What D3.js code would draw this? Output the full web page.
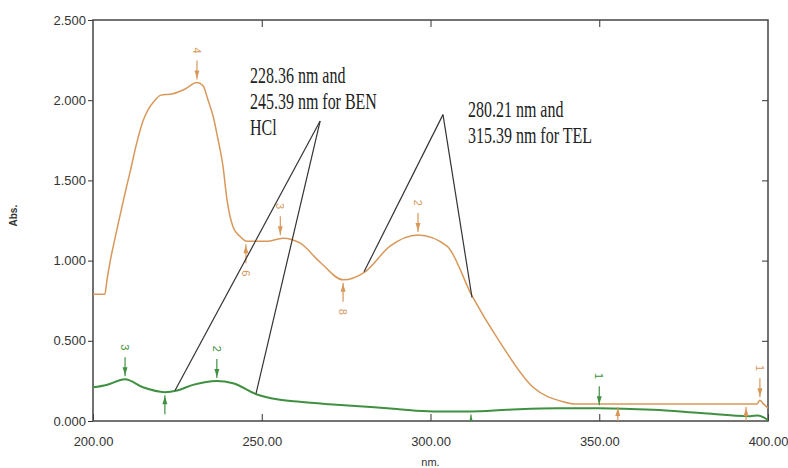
<!DOCTYPE html>
<meta charset="utf-8">
<script src="https://d3js.org/d3.v7.min.js"></script>
<style>
  body { margin: 0; background: #fff; }
</style>
<div id="my_dataviz"></div>
<script>
// spectrum readings (wavelength nm, absorbance)
var orangeNm  = [200, 203.5, 204.15, 205.04, 206.52, 208, 209.48, 210.96, 213.04, 214.81, 216.3, 218.37, 219.9, 223.7, 227.3, 230.8, 232.6, 234.1, 235.6, 237, 238.5, 239.7, 241.5, 243.6, 245.6, 251.6, 256.3, 261.3, 267.3, 274.1, 280.6, 288, 296.3, 304.9, 312.3, 320.6, 330.4, 339.3, 342.8, 396.7, 397.6, 398.5, 400];
var orangeAbs = [0.79, 0.79, 0.88, 0.99, 1.14, 1.28, 1.42, 1.55, 1.74, 1.87, 1.94, 2.0, 2.03, 2.04, 2.07, 2.11, 2.09, 2.0, 1.9, 1.76, 1.59, 1.38, 1.21, 1.15, 1.12, 1.12, 1.14, 1.11, 0.99, 0.88, 0.93, 1.09, 1.16, 1.09, 0.78, 0.49, 0.21, 0.12, 0.106, 0.106, 0.13, 0.11, 0.08];

var greenNm  = [200, 204, 209.5, 214.8, 221.3, 224.9, 229.6, 236.7, 241.5, 248.6, 254.5, 261.3, 270, 280, 290, 300.7, 312, 322.7, 337.5, 350, 366, 380, 394.7, 397, 399.7, 400];
var greenAbs = [0.21, 0.225, 0.26, 0.21, 0.18, 0.19, 0.225, 0.25, 0.235, 0.165, 0.135, 0.12, 0.105, 0.09, 0.075, 0.06, 0.06, 0.07, 0.08, 0.08, 0.07, 0.05, 0.03, 0.035, 0.01, 0.006];

// peak / valley picks
var orangePickNm    = [230.8, 255.5, 296.3, 397.6, 245.3, 274.1, 355.5, 393.5];
var orangePickAbs   = [2.11, 1.14, 1.16, 0.13, 1.12, 0.88, 0.106, 0.106];
var orangePickLabel = ["4", "3", "2", "1", "6", "8", "7", "5"];
var orangePickType  = ["peak", "peak", "peak", "peak", "valley", "valley", "valley", "valley"];

var greenPickNm    = [209.5, 236.7, 350, 221.3, 312];
var greenPickAbs   = [0.26, 0.25, 0.08, 0.18, 0.06];
var greenPickLabel = ["3", "2", "1", "5", "4"];
var greenPickType  = ["peak", "peak", "peak", "valley", "valley"];

// callout text and leader lines
var benText = ["228.36 nm and", "245.39 nm for BEN", "HCl"];
var telText = ["280.21 nm and", "315.39 nm for TEL"];
var benLines = [[[224.3, 0.19], [267.3, 1.87]], [[248.3, 0.17], [267.3, 1.87]]];
var telLines = [[[280.3, 0.93], [303.7, 1.91]], [[312.3, 0.77], [303.7, 1.91]]];

var xTicks = [200, 250, 300, 350, 400];
var yTicks = [0, 0.5, 1.0, 1.5, 2.0, 2.5];

var orangeCol = "#d8985a", greenCol = "#3f9040";

var margin = {top: 20, right: 20, bottom: 47, left: 93},
    width = 768 - margin.left,
    height = 421 - margin.top;

var svg = d3.select("#my_dataviz")
  .append("svg")
    .attr("width", 788)
    .attr("height", 468)
  .append("g")
    .attr("transform", "translate(" + margin.left + "," + margin.top + ")");

var x = d3.scaleLinear().domain([200, 400]).range([0, width]);
var y = d3.scaleLinear().domain([0, 2.5]).range([height, 0]);

svg.append("clipPath").attr("id", "clip")
  .append("rect").attr("width", width).attr("height", height);

// left axis: ticks outside
svg.append("g")
  .call(d3.axisLeft(y).tickValues(yTicks).tickFormat(d3.format(".3f")).tickSize(5).tickPadding(2))
  .call(function(g) {
    g.select(".domain").remove();
    g.selectAll("line").attr("stroke", "#333");
    g.selectAll("text").attr("font-family", "Liberation Sans, Arial").attr("font-size", 13).attr("fill", "#333");
  });

// bottom axis: ticks inside
svg.append("g")
  .attr("transform", "translate(0," + height + ")")
  .call(d3.axisBottom(x).tickValues(xTicks).tickFormat(d3.format(".2f")).tickSize(-7).tickPadding(16))
  .call(function(g) {
    g.select(".domain").remove();
    g.selectAll("line").attr("stroke", "#333");
    g.selectAll("text").attr("font-family", "Liberation Sans, Arial").attr("font-size", 13).attr("fill", "#333");
  });

// top and right inner ticks
svg.append("g")
  .call(d3.axisTop(x).tickValues(xTicks.slice(1, 4)).tickSize(-7).tickFormat(""))
  .call(function(g) { g.select(".domain").remove(); g.selectAll("line").attr("stroke", "#333"); });
svg.append("g")
  .attr("transform", "translate(" + width + ",0)")
  .call(d3.axisRight(y).tickValues(yTicks.slice(1, 5)).tickSize(-6).tickFormat(""))
  .call(function(g) { g.select(".domain").remove(); g.selectAll("line").attr("stroke", "#333"); });

// frame
svg.append("rect")
  .attr("width", width).attr("height", height)
  .attr("fill", "none").attr("stroke", "#444").attr("stroke-width", 1.5);

// axis titles
svg.append("text")
  .attr("x", x(300)).attr("y", height + 45)
  .attr("text-anchor", "middle")
  .attr("font-family", "Liberation Sans, Arial").attr("font-size", 11).attr("fill", "#333")
  .text("nm.");
svg.append("text")
  .attr("transform", "translate(" + (-76) + "," + y(1.28) + ") rotate(-90)")
  .attr("text-anchor", "middle")
  .attr("font-family", "Liberation Sans, Arial").attr("font-size", 10).attr("font-weight", "bold").attr("fill", "#333")
  .text("Abs.");

var plot = svg.append("g").attr("clip-path", "url(#clip)");

var line = d3.line()
  .x(function(d) { return x(d[0]); })
  .y(function(d) { return y(d[1]); })
  .curve(d3.curveMonotoneX);

plot.append("path")
  .datum(d3.zip(orangeNm, orangeAbs))
  .attr("fill", "none").attr("stroke", orangeCol).attr("stroke-width", 1.5)
  .attr("d", line);

plot.append("path")
  .datum(d3.zip(greenNm, greenAbs))
  .attr("fill", "none").attr("stroke", greenCol).attr("stroke-width", 2)
  .attr("d", line);

// pick markers: short line, arrow head near curve, rotated number
function drawPicks(nm, abs, labels, types, col) {
  nm.forEach(function(v, i) {
    var px = x(v), py = y(abs[i]);
    var s = types[i] === "peak" ? -1 : 1;
    var g = plot.append("g");
    g.append("line")
      .attr("x1", px).attr("x2", px)
      .attr("y1", py + s * 3).attr("y2", py + s * 22)
      .attr("stroke", col).attr("stroke-width", 1.2);
    g.append("path")
      .attr("d", "M" + px + "," + (py + s * 4) +
                 "L" + (px - 2.5) + "," + (py + s * 12) +
                 "L" + (px + 2.5) + "," + (py + s * 12) + "Z")
      .attr("fill", col);
    g.append("text")
      .attr("transform", "translate(" + px + "," + (py + s * 32) + ") rotate(90)")
      .attr("text-anchor", "middle").attr("dy", "0.35em")
      .attr("font-family", "Liberation Sans, Arial").attr("font-size", 11)
      .attr("fill", col)
      .text(labels[i]);
  });
}
drawPicks(orangePickNm, orangePickAbs, orangePickLabel, orangePickType, orangeCol);
drawPicks(greenPickNm, greenPickAbs, greenPickLabel, greenPickType, greenCol);

// leader lines
benLines.concat(telLines).forEach(function(l) {
  svg.append("line")
    .attr("x1", x(l[0][0])).attr("y1", y(l[0][1]))
    .attr("x2", x(l[1][0])).attr("y2", y(l[1][1]))
    .attr("stroke", "#333").attr("stroke-width", 1.2);
});

// callout text (serif, vertically stretched like the source)
function callout(lines, nm0, base) {
  lines.forEach(function(t, i) {
    svg.append("text")
      .attr("transform", "translate(" + x(nm0) + "," + (base + i * 26) + ") scale(1,1.45)")
      .attr("font-family", "Liberation Serif, Times New Roman").attr("font-size", 16)
      .attr("fill", "#222")
      .text(t);
  });
}
callout(benText, 246.5, 83 - margin.top);
callout(telText, 311.1, 117 - margin.top);
</script>
